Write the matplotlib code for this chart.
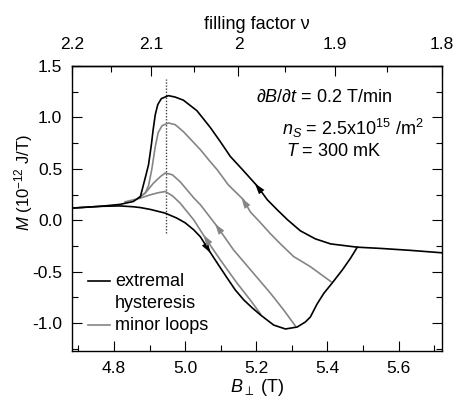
import numpy as np
import matplotlib
matplotlib.use('Agg')
import matplotlib.pyplot as plt
from matplotlib.ticker import MultipleLocator, FixedLocator, FuncFormatter

plt.rcParams['font.family'] = ['Liberation Sans', 'DejaVu Sans']
plt.rcParams['mathtext.fontset'] = 'custom'
plt.rcParams['mathtext.rm'] = 'Liberation Sans'
plt.rcParams['mathtext.it'] = 'Liberation Sans:italic'
plt.rcParams['mathtext.sf'] = 'Liberation Sans'
plt.rcParams['axes.unicode_minus'] = False

# extremal hysteresis, down-sweep branch (upper)
b_up = [4.682, 4.761, 4.817, 4.854, 4.874, 4.890, 4.897, 4.905, 4.910, 4.916, 4.923, 4.933,
        4.953, 4.972, 4.995, 5.033, 5.071, 5.099, 5.127, 5.164, 5.202, 5.231, 5.259, 5.288,
        5.324, 5.366, 5.409, 5.484, 5.550, 5.634, 5.724]
m_up = [0.119, 0.136, 0.155, 0.183, 0.229, 0.443, 0.540, 0.735, 0.881, 1.027, 1.125, 1.183,
        1.212, 1.198, 1.168, 1.066, 0.901, 0.764, 0.621, 0.482, 0.336, 0.200, 0.102, 0.005,
        -0.102, -0.180, -0.229, -0.261, -0.273, -0.292, -0.316]

# extremal hysteresis, up-sweep branch (lower)
b_dn = [4.682, 4.761, 4.817, 4.854, 4.874, 4.902, 4.944, 4.977, 5.000, 5.024, 5.043, 5.066,
        5.090, 5.118, 5.141, 5.165, 5.189, 5.212, 5.249, 5.282, 5.315, 5.338, 5.352, 5.371,
        5.390, 5.413, 5.442, 5.465, 5.484]
m_dn = [0.119, 0.136, 0.140, 0.132, 0.124, 0.106, 0.070, 0.021, -0.024, -0.092, -0.161, -0.287,
        -0.414, -0.560, -0.677, -0.774, -0.852, -0.920, -1.018, -1.056, -1.037, -0.988, -0.940, -0.813,
        -0.709, -0.611, -0.482, -0.368, -0.261]

# minor loops (returning down-sweeps)
b_loop1 = [4.874, 4.888, 4.897, 4.906, 4.916, 4.924, 4.935, 4.953, 4.972, 4.995, 5.043, 5.066,
           5.090, 5.121, 5.164, 5.183, 5.212, 5.240, 5.268, 5.305, 5.352, 5.410]
m_loop1 = [0.229, 0.268, 0.336, 0.492, 0.716, 0.852, 0.920, 0.946, 0.930, 0.862, 0.686, 0.589,
           0.492, 0.346, 0.200, 0.083, -0.024, -0.131, -0.229, -0.352, -0.450, -0.596]

b_loop2 = [4.868, 4.888, 4.911, 4.930, 4.944, 4.964, 4.986, 5.024, 5.043, 5.090, 5.136, 5.192,
           5.240, 5.277, 5.310]
m_loop2 = [0.219, 0.265, 0.362, 0.424, 0.460, 0.443, 0.375, 0.219, 0.151, -0.060, -0.287, -0.514,
           -0.709, -0.871, -1.027]

b_loop3 = [4.831, 4.874, 4.902, 4.924, 4.944, 4.964, 4.986, 5.024, 5.057, 5.099, 5.146, 5.183, 5.212]
m_loop3 = [0.180, 0.216, 0.248, 0.268, 0.280, 0.239, 0.167, 0.005, -0.173, -0.385, -0.611, -0.774, -0.910]

b_nu2 = 4.947          # dotted marker
nu_const = 10.30       # nu * B
nu_ticks = [2.2, 2.1, 2.0, 1.9, 1.8]
nu_minor = [2.15, 2.05, 1.95, 1.85]

black = 'black'
grey = '#858585'
fs = 13


def to_nu(b):
    b = np.asarray(b, dtype=float)
    with np.errstate(divide='ignore', invalid='ignore'):
        return nu_const / b


def arrow_on(ax, bx, by, b0, sign, color):
    # small filled arrowhead sitting on the curve at b0, pointing along sweep direction
    bx = np.asarray(bx); by = np.asarray(by)
    tip = b0 + sign * 0.006
    tail = b0 - sign * 0.012
    ax.annotate('', xy=(tip, np.interp(tip, bx, by)), xytext=(tail, np.interp(tail, bx, by)),
                arrowprops=dict(arrowstyle='-|>,head_length=0.8,head_width=0.25', color=color,
                                lw=0, mutation_scale=10, shrinkA=0, shrinkB=0))


fig = plt.figure(figsize=(4.53, 4.08), dpi=100)
ax = fig.add_axes([72 / 453, 57 / 408, 370 / 453, 285 / 408])

ax.plot([b_nu2, b_nu2], [-0.12, 1.37], color='#444444', lw=1.0, ls=(0, (1, 1.2)))

for bx, by in [(b_loop1, m_loop1), (b_loop2, m_loop2), (b_loop3, m_loop3)]:
    ax.plot(bx, by, color=grey, lw=1.2)
ax.plot(b_up, m_up, color=black, lw=1.2)
ax.plot(b_dn, m_dn, color=black, lw=1.2)

arrow_on(ax, b_up, m_up, 5.202, -1, black)
arrow_on(ax, b_dn, m_dn, 5.066, +1, black)
arrow_on(ax, b_loop1, m_loop1, 5.164, -1, grey)
arrow_on(ax, b_loop2, m_loop2, 5.090, -1, grey)
arrow_on(ax, b_loop3, m_loop3, 5.057, -1, grey)

ax.set_xlim(nu_const / nu_ticks[0], nu_const / nu_ticks[-1])
ax.set_ylim(-1.27, 1.5)

ax.xaxis.set_major_locator(MultipleLocator(0.2))
ax.xaxis.set_minor_locator(MultipleLocator(0.1))
ax.yaxis.set_major_locator(MultipleLocator(0.5))
ax.yaxis.set_minor_locator(MultipleLocator(0.25))
ax.xaxis.set_major_formatter(FuncFormatter(lambda v, p: f'{v:.1f}'))
ax.yaxis.set_major_formatter(FuncFormatter(lambda v, p: f'{v:.1f}'))
ax.tick_params(which='both', direction='in', right=True, top=False, width=0.8, labelsize=12.5)
ax.tick_params(which='major', length=7, pad=7)
ax.tick_params(which='minor', length=4)
for s in ax.spines.values():
    s.set_linewidth(1.0)

ax.set_xlabel(r'$B_{\perp}$ (T)', fontsize=fs, labelpad=1)
ax.set_ylabel(r'$M$ (10$^{-12}$ J/T)', fontsize=12)
ax.yaxis.set_label_coords(-0.10, 0.59)

sec = ax.secondary_xaxis('top', functions=(to_nu, to_nu))
sec.xaxis.set_major_locator(FixedLocator(nu_ticks))
sec.xaxis.set_minor_locator(FixedLocator(nu_minor))
sec.xaxis.set_major_formatter(FuncFormatter(lambda v, p: f'{v:g}'))
sec.tick_params(which='both', direction='in', width=0.8, labelsize=12.5)
sec.tick_params(which='major', length=7, pad=10)
sec.tick_params(which='minor', length=4)
sec.spines['top'].set_linewidth(1.0)
sec.set_xlabel('filling factor ν', fontsize=fs, labelpad=6)

ax.text(5.392, 1.151, r'$\partial B/\partial t$ = 0.2 T/min', fontsize=fs, ha='center', va='baseline')
ax.text(5.472, 0.832, r'$n_S$ = 2.5x10$^{15}$ /m$^2$', fontsize=fs, ha='center', va='baseline')
ax.text(5.417, 0.621, r'$T$ = 300 mK', fontsize=fs, ha='center', va='baseline')

# legend drawn by hand
ax.plot([0.043, 0.103], [0.2456, 0.2456], color=black, lw=1.2, transform=ax.transAxes)
ax.plot([0.043, 0.103], [0.091, 0.091], color=grey, lw=1.2, transform=ax.transAxes)
ax.text(0.116, 0.2456, 'extremal', fontsize=fs, va='center', transform=ax.transAxes)
ax.text(0.116, 0.168, 'hysteresis', fontsize=fs, va='center', transform=ax.transAxes)
ax.text(0.116, 0.091, 'minor loops', fontsize=fs, va='center', transform=ax.transAxes)

fig.savefig('out.png', dpi=100)
